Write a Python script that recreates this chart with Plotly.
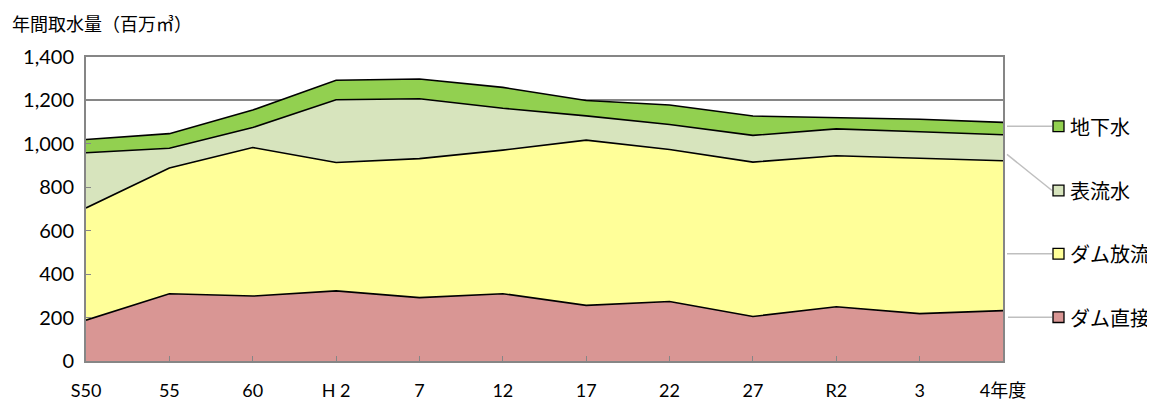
import plotly.graph_objects as go

categories = ["S50", "55", "60", "H 2", "7", "12", "17", "22", "27", "R2", "3", "4年度"]
dam_direct = [188, 310, 299, 323, 292, 310, 256, 274, 205, 250, 218, 232]
dam_release = [517, 579, 684, 591, 640, 661, 761, 700, 711, 695, 716, 690]
surface_water = [254, 91, 92, 289, 276, 193, 112, 115, 123, 124, 122, 120]
groundwater = [61, 67, 81, 90, 91, 96, 71, 90, 89, 53, 57, 57]

series_names = ["ダム直接", "ダム放流", "表流水", "地下水"]
series_values = [dam_direct, dam_release, surface_water, groundwater]
series_colors = ["#D99694", "#FFFF99", "#D7E4BD", "#92D050"]

W, H = 1155, 405
OFF = 8  # page body margin offset
# screen-pixel plot area: left 86, right 1003, top 57, bottom 369
L, T = 86 - OFF, 57 - OFF
R = W - (1003 - OFF)
B = H - (369 - OFF)
PW, PH = W - L - R, H - T - B

def px(x):
    return (x - OFF - L) / PW

def py(y):
    return (369 - y) / PH

FONT = "Lato, 'Noto Sans CJK JP', sans-serif"
JFONT = "'Noto Sans CJK JP', sans-serif"

fig = go.Figure()
for name, vals, col in zip(series_names, series_values, series_colors):
    fig.add_trace(go.Scatter(
        x=list(range(len(categories))), y=vals, name=name, mode="lines",
        stackgroup="one", fillcolor=col,
        line=dict(color="black", width=1.6),
        hoverinfo="y+name",
    ))

shapes = []
annotations = []
legend_items = [
    ("地下水", "#92D050", 128, (1007, 128)),
    ("表流水", "#D7E4BD", 194, (1007, 157)),
    ("ダム放流", "#FFFF99", 259, (1007, 259)),
    ("ダム直接", "#D99694", 324, (1008, 324)),
]
for name, col, ly, (sx, sy) in legend_items:
    shapes.append(dict(type="line", xref="paper", yref="paper",
                       x0=px(sx), y0=py(sy), x1=px(1052), y1=py(ly),
                       line=dict(color="#BFBFBF", width=1.5)))
    shapes.append(dict(type="rect", xref="paper", yref="paper",
                       x0=px(1053), x1=px(1064), y0=py(ly - 5.5), y1=py(ly + 5.5),
                       fillcolor=col, line=dict(color="black", width=1.3)))
    annotations.append(dict(text=name, xref="paper", yref="paper",
                            x=px(1068), y=py(ly), xanchor="left", yanchor="middle",
                            showarrow=False, font=dict(family=JFONT, size=20, color="black")))

annotations.append(dict(text="年間取水量（百万㎥）", xref="paper", yref="paper",
                        x=px(10), y=py(22), xanchor="left", yanchor="middle",
                        showarrow=False, font=dict(family=JFONT, size=18, color="black")))

fig.update_layout(
    width=W, height=H,
    margin=dict(l=L, r=R, t=T, b=B, pad=0),
    paper_bgcolor="white", plot_bgcolor="white",
    showlegend=False,
    shapes=shapes, annotations=annotations,
    font=dict(family=FONT, color="black"),
)
fig.update_xaxes(
    type="linear", range=[0, len(categories) - 1],
    tickmode="array", tickvals=list(range(len(categories))), ticktext=categories,
    ticks="inside", ticklen=5, tickcolor="#868686", tickwidth=1,
    showline=True, linecolor="#868686", linewidth=2, mirror=True,
    showgrid=False, zeroline=False, ticklabelstandoff=12,
    tickfont=dict(family=FONT, size=18, color="black"),
)
fig.update_yaxes(
    range=[0, 1400], dtick=200, tickformat=",",
    ticks="inside", ticklen=5, tickcolor="#868686", tickwidth=1,
    showline=True, linecolor="#868686", linewidth=2, mirror=True,
    showgrid=True, gridcolor="#868686", gridwidth=1.5, zeroline=False,
    ticklabelstandoff=6,
    tickfont=dict(family=FONT, size=20, color="black"),
)

fig.write_html("out.html")
